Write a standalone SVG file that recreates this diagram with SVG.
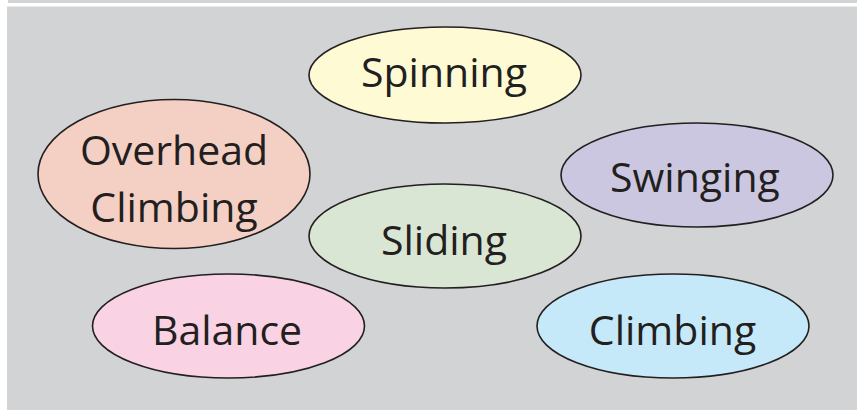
<svg xmlns="http://www.w3.org/2000/svg" width="857" height="410" viewBox="0 0 857 410">
<style>
.bg{fill:#d1d3d4}
.n ellipse{stroke:#231f20;stroke-width:1.6}
.n text{font-family:"Open Sans","Noto Sans",sans-serif;font-size:41px;fill:#231f20;text-anchor:middle}
</style>
<rect width="857" height="410" fill="#ffffff"/>
<rect class="bg" x="8" y="0" width="849" height="3"/>
<rect class="bg" x="7" y="6.5" width="850" height="404"/>
<g id="connectors"></g>
<g id="spinning" class="n">
<ellipse cx="445" cy="75" rx="136" ry="48" fill="#fefad3"/>
<text x="444" y="87">Spinning</text>
</g>
<g id="overhead-climbing" class="n">
<ellipse cx="174" cy="174" rx="136" ry="74.5" fill="#f4d0c4"/>
<text x="174" y="165">Overhead</text>
<text x="174" y="222">Climbing</text>
</g>
<g id="swinging" class="n">
<ellipse cx="697" cy="175" rx="136" ry="52" fill="#cbc7e1"/>
<text x="695" y="192">Swinging</text>
</g>
<g id="sliding" class="n">
<ellipse cx="445" cy="236" rx="136" ry="52" fill="#d8e6d3"/>
<text x="444" y="255">Sliding</text>
</g>
<g id="balance" class="n">
<ellipse cx="228.5" cy="326" rx="136" ry="52" fill="#f9d3e4"/>
<text x="227" y="345">Balance</text>
</g>
<g id="climbing" class="n">
<ellipse cx="673" cy="326" rx="136" ry="52" fill="#c6e9f9"/>
<text x="672.5" y="345">Climbing</text>
</g>
</svg>
